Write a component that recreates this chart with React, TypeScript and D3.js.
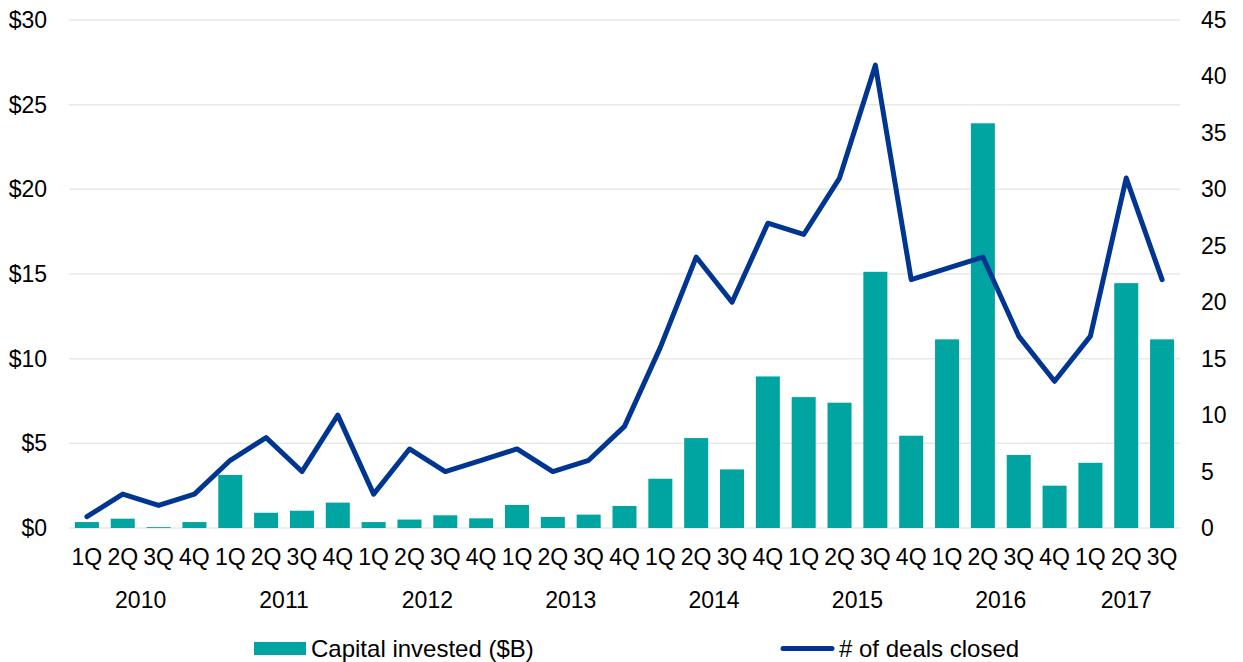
import React from "react";
import * as d3 from "d3";

const quarters = ["1Q","2Q","3Q","4Q","1Q","2Q","3Q","4Q","1Q","2Q","3Q","4Q","1Q","2Q","3Q","4Q","1Q","2Q","3Q","4Q","1Q","2Q","3Q","4Q","1Q","2Q","3Q","4Q","1Q","2Q","3Q"];
const years = ["2010","2011","2012","2013","2014","2015","2016","2017"];
const capitalInvested = [0.35,0.55,0.05,0.35, 3.13,0.9,1.02,1.5, 0.35,0.5,0.75,0.57, 1.36,0.65,0.79,1.3, 2.91,5.31,3.46,8.95, 7.73,7.4,15.13,5.45, 11.14,23.9,4.31,2.5, 3.85,14.46,11.14];
const dealsClosed = [1,3,2,3, 6,8,5,10, 3,7,5,6, 7,5,6,9, 16,24,20,27, 26,31,41,22, 23,24,17,13, 17,31,22];
const leftTicks = [0,5,10,15,20,25,30];
const rightTicks = [0,5,10,15,20,25,30,35,40,45];
const legendLabels = ["Capital invested ($B)", "# of deals closed"];

const W = 1243, H = 662;
const left = 69, right = 1180, top = 20, bottom = 528;
const BAR = "#00a5a1";
const LINE = "#003591";
const GRID = "#e9e9e3";
const FONT = "'Liberation Sans', Arial, sans-serif";
const FS = 23;

export default function App() {
  const idx = quarters.map((_, i) => i);
  const x = d3.scaleBand<number>().domain(idx).range([left, right]).paddingInner(0.33).paddingOuter(0.165);
  const band = d3.scaleBand<number>().domain(idx).range([left, right]).padding(0);
  const yL = d3.scaleLinear().domain([0, 30]).range([bottom, top]);
  const yR = d3.scaleLinear().domain([0, 45]).range([bottom, top]);
  const cx = (i: number) => band(i)! + band.bandwidth() / 2;
  const line = d3.line<number>().x((_, i) => cx(i)).y((d) => yR(d));

  return (
    <svg width={W} height={H} style={{ position: "absolute", left: 0, top: 0 }} fontFamily={FONT}>
      <rect width={W} height={H} fill="#fff" />
      {leftTicks.map((t) => (
        <line key={"g" + t} x1={left} x2={right} y1={yL(t)} y2={yL(t)} stroke={GRID} strokeWidth={1.5} />
      ))}
      {leftTicks.map((t) => (
        <text key={"l" + t} x={47} y={yL(t) + 8} fontSize={FS} textAnchor="end" fill="#000">{"$" + t}</text>
      ))}
      {rightTicks.map((t) => (
        <text key={"r" + t} x={1201} y={yR(t) + 8} fontSize={FS} textAnchor="start" fill="#000">{t}</text>
      ))}
      {capitalInvested.map((v, i) => (
        <rect key={"b" + i} x={x(i)} y={yL(v)} width={x.bandwidth()} height={bottom - yL(v)} fill={BAR} />
      ))}
      <path d={line(dealsClosed)!} fill="none" stroke={LINE} strokeWidth={5} strokeLinejoin="round" strokeLinecap="round" />
      {quarters.map((q, i) => (
        <text key={"q" + i} x={cx(i)} y={565} fontSize={FS} textAnchor="middle" fill="#000">{q}</text>
      ))}
      {years.map((yr, k) => {
        const s = k * 4;
        const e = Math.min(s + 3, quarters.length - 1);
        const mid = (band(s)! + band(e)! + band.bandwidth()) / 2;
        return <text key={"y" + yr} x={mid} y={608} fontSize={FS} textAnchor="middle" fill="#000">{yr}</text>;
      })}
      <rect x={254} y={642} width={52} height={13} fill={BAR} />
      <text x={311} y={657} fontSize={24} fill="#000">{legendLabels[0]}</text>
      <line x1={783} x2={832} y1={648.5} y2={648.5} stroke={LINE} strokeWidth={5} strokeLinecap="round" />
      <text x={839} y={657} fontSize={24} fill="#000">{legendLabels[1]}</text>
    </svg>
  );
}
